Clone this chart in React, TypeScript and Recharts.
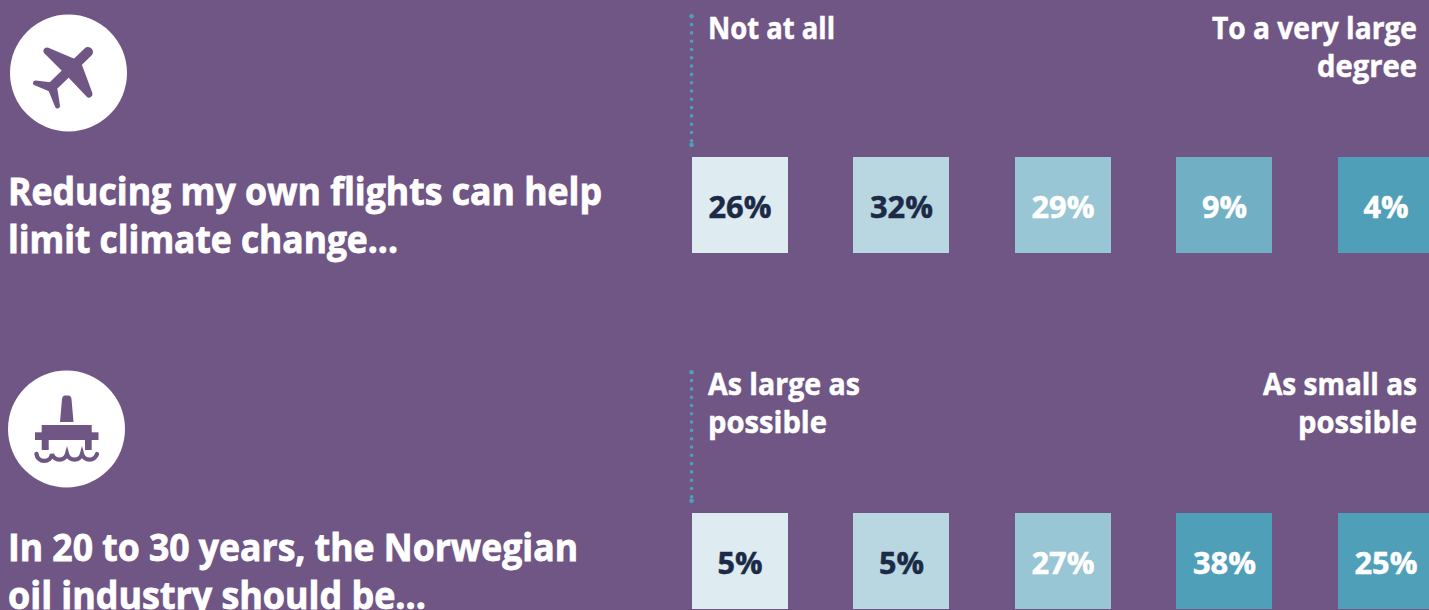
import React from "react";
import { ScatterChart, Scatter, XAxis, YAxis, ReferenceLine } from "recharts";

const flightValues = [26, 32, 29, 9, 4];
const oilValues = [5, 5, 27, 38, 25];
const flightFills = ["#DEEBF0", "#B9D7E0", "#98C6D4", "#71B0C4", "#4F9FB8"];
const oilFills = ["#DEEBF0", "#B9D7E0", "#98C6D4", "#4F9FB8", "#4F9FB8"];
const flightInk = ["#1B2A47", "#1B2A47", "#FFFFFF", "#FFFFFF", "#FFFFFF"];
const oilInk = ["#1B2A47", "#1B2A47", "#FFFFFF", "#FFFFFF", "#FFFFFF"];

const toRow = (row: number, values: number[], fills: string[], inks: string[]) =>
  values.map((value, i) => ({ col: i, row, value, fill: fills[i], ink: inks[i] }));

const flightRow = toRow(0, flightValues, flightFills, flightInk);
const oilRow = toRow(1, oilValues, oilFills, oilInk);

const FONT = "'Open Sans', 'Noto Sans', sans-serif";
const BG = "#705685";
const TEAL = "#4F9FB8";
const SIDE = 96;

const Cell = (props: any) => {
  const { cx, cy, payload } = props;
  const label = `${payload.value}%`;
  return (
    <g>
      <rect
        x={Math.floor(cx - SIDE / 2 + 0.01)}
        y={Math.round(cy - SIDE / 2)}
        width={SIDE}
        height={SIDE}
        fill={payload.fill}
      />
      <text
        x={cx}
        y={cy + 13}
        textAnchor="middle"
        fontFamily={FONT}
        fontWeight={700}
        fontSize={30}
        fill={payload.ink}
        stroke={payload.ink}
        strokeWidth={0.5}
        textLength={label.length === 3 ? 63 : 45}
        lengthAdjust="spacingAndGlyphs"
      >
        {label}
      </text>
    </g>
  );
};

const T = ({ x, y, w, size = 30, anchor = "start", children }: any) => (
  <text
    x={x}
    y={y}
    fontFamily={FONT}
    fontWeight={700}
    fontSize={size}
    fill="#FFFFFF"
    stroke="#FFFFFF"
    strokeWidth={size > 30 ? 0.8 : 0.5}
    textAnchor={anchor}
    textLength={w}
    lengthAdjust="spacingAndGlyphs"
  >
    {children}
  </text>
);

const Dotted = (props: any) => {
  const { x1, y1, x2, y2 } = props;
  return (
    <g>
      <line
        x1={x1}
        y1={y1}
        x2={x2}
        y2={y2}
        stroke={TEAL}
        strokeWidth={3.6}
        strokeDasharray="0 8.3"
        strokeLinecap="round"
      />
      <circle cx={x1} cy={y1} r={2.3} fill={TEAL} />
      <circle cx={x2} cy={y2} r={2.3} fill={TEAL} />
    </g>
  );
};

const PlaneIcon = () => (
  <g>
    <circle cx={68.5} cy={73} r={58.5} fill="#FFFFFF" />
    <g fill={BG} stroke={BG} strokeLinejoin="round" strokeLinecap="round">
      <line x1={88} y1={52} x2={54} y2={85} strokeWidth={10} />
      <polygon points="47,51 73,62 66,70" strokeWidth={7} />
      <polygon points="89,94 79,67 71,75" strokeWidth={7} />
      <polygon points="35.5,83 52,85 50,89" strokeWidth={5} />
      <polygon points="57.5,106 55,90 51,90" strokeWidth={5} />
    </g>
  </g>
);

const RigIcon = () => (
  <g>
    <circle cx={66.5} cy={429} r={58.5} fill="#FFFFFF" />
    <g fill={BG}>
      <path d="M60 422 L62 399 Q62.5 395.5 65 395.5 L68.5 395.5 Q71 395.5 71.5 399 L73.5 422 Z" />
      <rect x={41.7} y={425} width={50} height={15} />
      <rect x={35} y={432.3} width={63.5} height={7.7} />
      <rect x={41.7} y={438} width={7} height={12} />
      <rect x={85} y={438} width={6.7} height={12} />
    </g>
    <path
      d="M36.5 454 A7.8 7.8 0 0 0 52 454 A7.8 7.8 0 0 0 67 454 A7.8 7.8 0 0 0 82 454 A7.8 7.8 0 0 0 97 454"
      fill="none"
      stroke={BG}
      strokeWidth={4.4}
      strokeLinecap="round"
    />
  </g>
);

export default function App() {
  return (
    <div style={{ position: "fixed", left: 0, top: 0, width: 1429, height: 610, background: BG, overflow: "hidden" }}>
      <ScatterChart width={1429} height={610} margin={{ top: 0, right: 0, bottom: 0, left: 0 }}>
        <XAxis type="number" dataKey="col" hide domain={[-740 / 161.5, 689 / 161.5]} allowDataOverflow />
        <YAxis type="number" dataKey="row" hide reversed domain={[-205 / 356, 405 / 356]} allowDataOverflow />
        <ReferenceLine
          segment={[{ x: -0.3, y: -0.53 }, { x: -0.3, y: -0.169 }]}
          shape={Dotted}
        />
        <ReferenceLine
          segment={[{ x: -0.3, y: 0.47 }, { x: -0.3, y: 0.831 }]}
          shape={Dotted}
        />
        <Scatter data={flightRow} shape={Cell} isAnimationActive={false} />
        <Scatter data={oilRow} shape={Cell} isAnimationActive={false} />
        <PlaneIcon />
        <RigIcon />
        <T x={8} y={205} w={594} size={37}>Reducing my own flights can help</T>
        <T x={8} y={253} w={390} size={37}>limit climate change...</T>
        <T x={8} y={561} w={570} size={37}>In 20 to 30 years, the Norwegian</T>
        <T x={8} y={609} w={418} size={37}>oil industry should be...</T>
        <T x={708} y={39} w={127}>Not at all</T>
        <T x={1417} y={39} w={205} anchor="end">To a very large</T>
        <T x={1417} y={77} w={100} anchor="end">degree</T>
        <T x={708} y={395} w={152}>As large as</T>
        <T x={708} y={433} w={119}>possible</T>
        <T x={1417} y={395} w={154} anchor="end">As small as</T>
        <T x={1417} y={433} w={119} anchor="end">possible</T>
      </ScatterChart>
    </div>
  );
}
